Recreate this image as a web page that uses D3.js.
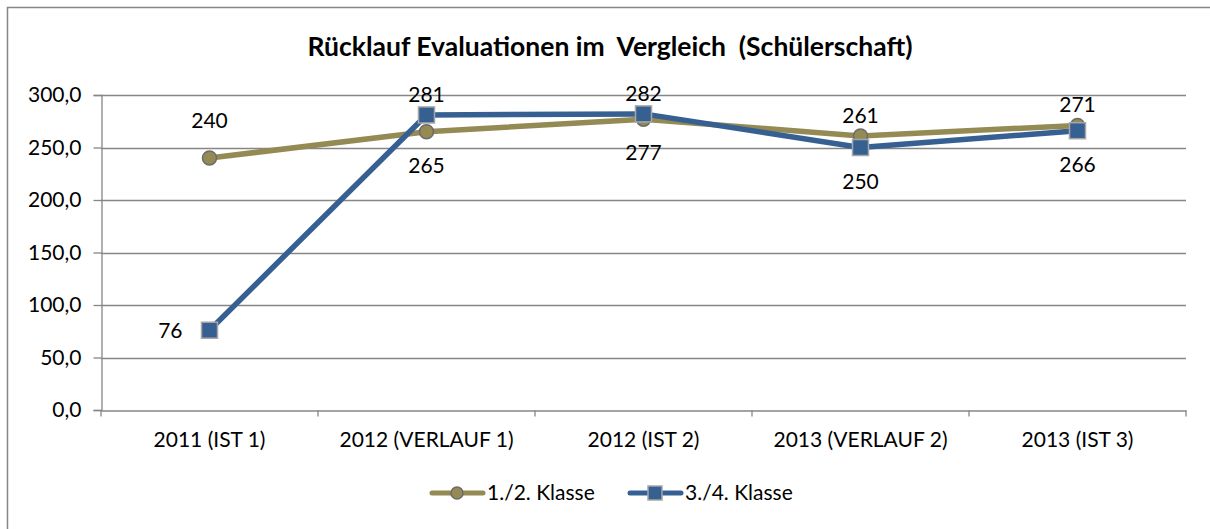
<!DOCTYPE html>
<html>
<head>
<meta charset="utf-8">
<script src="https://cdn.jsdelivr.net/npm/d3@7"></script>
<style>
  body { margin: 0; background: #fff; overflow: hidden; }
  text { font-family: Lato, "Open Sans", sans-serif; fill: #000; }
</style>
</head>
<body>
<svg id="chart" width="1210" height="529"></svg>
<script>
var categories = ["2011 (IST 1)", "2012 (VERLAUF 1)", "2012 (IST 2)", "2013 (VERLAUF 2)", "2013 (IST 3)"];
var klasse12 = [240, 265, 277, 261, 271];
var klasse34 = [76, 281, 282, 250, 266];
var seriesNames = ["1./2. Klasse", "3./4. Klasse"];
var yTicks = [0, 50, 100, 150, 200, 250, 300];
// label placement per point
var pos12 = ["high", "below", "below", "above", "above"];
var pos34 = ["left", "above", "above", "below", "below"];

var svg = d3.select("#chart"),
    margin = {left: 101, right: 24, top: 95, bottom: 119},
    width = +svg.attr("width"),
    height = +svg.attr("height");

var gold = "#948a54", blue = "#376092", grid = "#868686";

// chart frame: only top and left edges are inside the picture
svg.append("path")
    .attr("d", "M7.5," + height + "V7.5H" + width)
    .attr("fill", "none").attr("stroke", grid).attr("stroke-width", 1.5);

svg.append("text")
    .attr("x", 610).attr("y", 56)
    .attr("text-anchor", "middle")
    .attr("font-size", 26.5).attr("font-weight", "bold")
    .attr("xml:space", "preserve")
    .text("Rücklauf Evaluationen im  Vergleich  (Schülerschaft)");

var x = d3.scaleBand()
    .domain(categories)
    .range([margin.left, width - margin.right]);

var y = d3.scaleLinear()
    .domain([0, 300])
    .range([height - margin.bottom, margin.top]);

// gridlines
svg.append("g").selectAll("line")
    .data(yTicks.slice(1))
    .enter().append("line")
    .attr("x1", margin.left).attr("x2", width - margin.right)
    .attr("y1", function(d) { return Math.round(y(d)) + 0.5; })
    .attr("y2", function(d) { return Math.round(y(d)) + 0.5; })
    .attr("stroke", grid).attr("stroke-width", 1.3);

var yAxis = svg.append("g")
    .attr("transform", "translate(" + (margin.left + 0.5) + ",0)")
    .call(d3.axisLeft(y).tickValues(yTicks).tickSize(8).tickPadding(12)
        .tickFormat(function(d) { return d3.format(".1f")(d).replace(".", ","); }));
yAxis.selectAll("text").attr("font-size", 21);

var xAxis = svg.append("g")
    .attr("transform", "translate(0," + (Math.round(y(0)) + 0.5) + ")")
    .call(d3.axisBottom(x).tickSize(0).tickPadding(22));
xAxis.selectAll("text").attr("font-size", 21);
yAxis.attr("font-family", null); xAxis.attr("font-family", null);

// category boundary ticks
xAxis.append("g").selectAll("line")
    .data(categories.concat([null]))
    .enter().append("line")
    .attr("x1", function(d, i) { return margin.left + i * x.step(); })
    .attr("x2", function(d, i) { return margin.left + i * x.step(); })
    .attr("y1", 0).attr("y2", 6)
    .attr("stroke", grid).attr("stroke-width", 1.3);

svg.selectAll(".domain, .tick line").attr("stroke", grid).attr("stroke-width", 1.3);

function cx(i) { return x(categories[i]) + x.bandwidth() / 2; }

var line = d3.line()
    .x(function(d, i) { return cx(i); })
    .y(function(d) { return y(d); });

svg.append("path").datum(klasse12)
    .attr("d", line).attr("fill", "none")
    .attr("stroke", gold).attr("stroke-width", 5.5).attr("stroke-linejoin", "round");

svg.append("g").selectAll("circle")
    .data(klasse12).enter().append("circle")
    .attr("cx", function(d, i) { return cx(i); })
    .attr("cy", function(d) { return y(d); })
    .attr("r", 7)
    .attr("fill", gold).attr("stroke", "#6b6b6b").attr("stroke-width", 1.5);

svg.append("path").datum(klasse34)
    .attr("d", line).attr("fill", "none")
    .attr("stroke", blue).attr("stroke-width", 5.5).attr("stroke-linejoin", "round");

svg.append("g").selectAll("rect")
    .data(klasse34).enter().append("rect")
    .attr("x", function(d, i) { return cx(i) - 8; })
    .attr("y", function(d) { return y(d) - 8; })
    .attr("width", 16).attr("height", 16)
    .attr("fill", blue).attr("stroke", "#a6a6a6").attr("stroke-width", 1.5);

var labelDy = {high: -30, above: -13, below: 41, left: 8};

function addLabels(values, places) {
    svg.append("g").selectAll("text")
        .data(values).enter().append("text")
        .attr("font-size", 21)
        .attr("text-anchor", function(d, i) { return places[i] === "left" ? "end" : "middle"; })
        .attr("x", function(d, i) { return places[i] === "left" ? cx(i) - 27 : cx(i); })
        .attr("y", function(d, i) { return y(d) + labelDy[places[i]]; })
        .text(function(d) { return d; });
}
addLabels(klasse12, pos12);
addLabels(klasse34, pos34);

// legend
var legend = svg.append("g").attr("transform", "translate(430,493)");
var items = legend.selectAll("g")
    .data(seriesNames).enter().append("g")
    .attr("transform", function(d, i) { return "translate(" + (i * 198) + ",0)"; });
items.append("line")
    .attr("x1", 2).attr("x2", 53).attr("y1", 0).attr("y2", 0)
    .attr("stroke", function(d, i) { return i ? blue : gold; })
    .attr("stroke-width", 5).attr("stroke-linecap", "round");
items.filter(function(d, i) { return i === 0; }).append("circle")
    .attr("cx", 27).attr("cy", 0).attr("r", 6)
    .attr("fill", gold).attr("stroke", "#6b6b6b").attr("stroke-width", 1.5);
items.filter(function(d, i) { return i === 1; }).append("rect")
    .attr("x", 20).attr("y", -7).attr("width", 14).attr("height", 14)
    .attr("fill", blue).attr("stroke", "#a6a6a6").attr("stroke-width", 1.5);
items.append("text")
    .attr("x", 57).attr("y", 7)
    .attr("font-size", 21)
    .text(function(d) { return d; });
</script>
</body>
</html>
